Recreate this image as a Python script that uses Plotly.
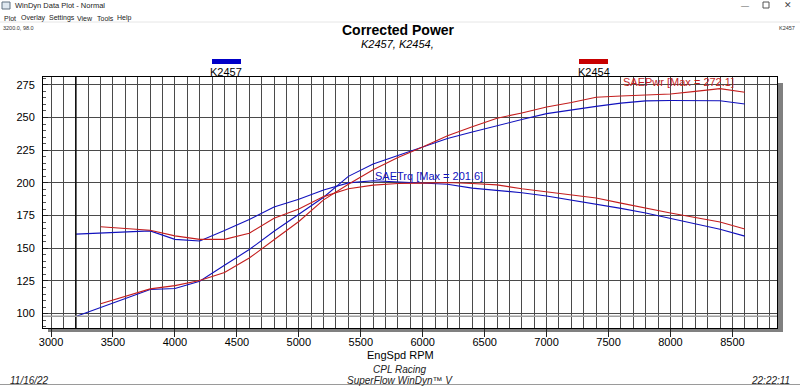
import plotly.graph_objects as go

# ---------------- data ----------------
rpm_k2457 = [3200, 3400, 3600, 3800, 4000, 4200, 4400, 4600, 4800, 5000, 5200, 5400, 5600, 5800,
             6000, 6200, 6400, 6600, 6800, 7000, 7200, 7400, 7600, 7800, 8000, 8200, 8400, 8600]
trq_k2457 = [160.8, 161.8, 162.5, 163.3, 156.8, 155.6, 163.5, 172.0, 181.5, 187.5, 194.5, 200.0, 201.6, 200.8,
             199.8, 199.0, 196.0, 194.5, 192.5, 190.0, 187.0, 183.5, 180.5, 177.0, 172.8, 168.5, 164.6, 159.3]
pwr_k2457 = [97.8, 104.5, 111.5, 118.4, 119.2, 124.7, 137.0, 149.0, 163.0, 176.0, 189.0, 205.0, 214.5, 221.0,
             227.5, 234.0, 239.0, 244.0, 248.5, 253.0, 256.0, 258.5, 261.0, 262.7, 263.0, 263.0, 262.8, 260.3]

rpm_k2454 = [3400, 3600, 3800, 4000, 4200, 4400, 4600, 4800, 5000, 5200, 5400, 5600, 5800,
             6000, 6200, 6400, 6600, 6800, 7000, 7200, 7400, 7600, 7800, 8000, 8200, 8400, 8600]
trq_k2454 = [166.5, 165.0, 163.8, 159.5, 156.8, 156.8, 161.5, 173.0, 180.0, 189.5, 195.5, 198.3, 199.5,
             199.8, 200.3, 199.5, 198.5, 195.5, 193.0, 190.5, 188.5, 184.5, 180.5, 177.0, 173.5, 170.1, 164.8]
pwr_k2454 = [107.5, 113.2, 118.9, 121.4, 125.3, 131.5, 142.5, 156.5, 170.5, 187.0, 199.0, 210.0, 219.5,
             227.5, 236.0, 243.0, 249.5, 253.5, 258.0, 261.5, 265.5, 266.5, 267.0, 268.0, 270.0, 272.1, 269.3]

x_ticks = [3000, 3500, 4000, 4500, 5000, 5500, 6000, 6500, 7000, 7500, 8000, 8500]
y_ticks = [100, 125, 150, 175, 200, 225, 250, 275]
run_names = ["K2457", "K2454"]
max_trq_label = "SAETrq [Max = 201.6]"
max_pwr_label = "SAEPwr [Max = 272.1]"
cursor_rpm = 3200.0
cursor_val = 98.0

BLUE = "#1212BE"
RED = "#C41E1E"

# ---------------- geometry helpers (pixel -> paper) ----------------
W, H = 800, 386
L, R, T, B = 43, 777, 77, 328


def px(x):
    return (x - L) / (R - L)


def py(y):
    return (B - y) / (B - T)


fig = go.Figure()
for xs, ys, c in [(rpm_k2457, pwr_k2457, BLUE), (rpm_k2457, trq_k2457, BLUE),
                  (rpm_k2454, pwr_k2454, RED), (rpm_k2454, trq_k2454, RED)]:
    fig.add_trace(go.Scatter(x=xs, y=ys, mode="lines", line=dict(color=c, width=1.1),
                             showlegend=False, hoverinfo="skip"))

FONT = "Liberation Sans, Arial, sans-serif"
grid = "#4a4a4a"

fig.update_layout(
    width=W, height=H,
    margin=dict(l=L, r=W - R, t=T, b=H - B),
    paper_bgcolor="white", plot_bgcolor="white",
    font=dict(family=FONT, size=11, color="black"),
    xaxis=dict(range=[2935, 8860], tickvals=x_ticks, ticktext=[str(v) for v in x_ticks],
               showgrid=True, gridcolor=grid, gridwidth=1,
               minor=dict(dtick=100, tick0=3000, showgrid=True, gridcolor=grid, gridwidth=1),
               ticks="outside", ticklen=8, tickcolor="#222", tickwidth=1,
               ticklabelstandoff=-4,
               showline=True, linecolor="black", linewidth=1, mirror=True,
               zeroline=False, tickfont=dict(size=11, family=FONT)),
    yaxis=dict(range=[89, 281], tickvals=y_ticks, ticktext=[str(v) for v in y_ticks],
               showgrid=True, gridcolor=grid, gridwidth=1,
               ticks="inside", ticklen=5, tickcolor="#222",
               ticklabelstandoff=5,
               minor=dict(dtick=5, tick0=0, ticks="inside", ticklen=3, tickcolor="#555", showgrid=False),
               showline=True, linecolor="black", linewidth=1, mirror=True,
               zeroline=False, tickfont=dict(size=11, family=FONT)),
)

shapes = []
# drop shadow of the plot frame
shapes.append(dict(type="rect", xref="paper", yref="paper", x0=px(777), x1=px(783), y0=py(332), y1=py(83),
                   fillcolor="#808080", line=dict(width=0), layer="below"))
shapes.append(dict(type="rect", xref="paper", yref="paper", x0=px(48), x1=px(783), y0=py(332), y1=py(328),
                   fillcolor="#808080", line=dict(width=0), layer="below"))
# cursor cross-hair
shapes.append(dict(type="line", xref="x", yref="paper", x0=cursor_rpm, x1=cursor_rpm, y0=0, y1=1,
                   line=dict(color="#111", width=1.6)))
shapes.append(dict(type="line", xref="paper", yref="y", x0=0, x1=1, y0=cursor_val, y1=cursor_val,
                   line=dict(color="#a0a0a0", width=1.5)))
# legend swatches
shapes.append(dict(type="rect", xref="paper", yref="paper", x0=px(212), x1=px(241), y0=py(64), y1=py(59),
                   fillcolor="#0000C8", line=dict(width=0)))
shapes.append(dict(type="rect", xref="paper", yref="paper", x0=px(579), x1=px(608), y0=py(64), y1=py(59),
                   fillcolor="#C80000", line=dict(width=0)))
# window chrome lines
shapes.append(dict(type="line", xref="paper", yref="paper", x0=px(0), x1=px(800), y0=py(22), y1=py(22),
                   line=dict(color="#e6e6e6", width=1)))
shapes.append(dict(type="line", xref="paper", yref="paper", x0=px(0), x1=px(800), y0=py(384.5), y1=py(384.5),
                   line=dict(color="#9a9a9a", width=1)))
# app icon
shapes.append(dict(type="rect", xref="paper", yref="paper", x0=px(2), x1=px(10), y0=py(9), y1=py(2),
                   fillcolor="#dfe8f0", line=dict(color="#607080", width=1)))
# maximise box outline
shapes.append(dict(type="rect", xref="paper", yref="paper", x0=px(763), x1=px(769), y0=py(8), y1=py(2),
                   line=dict(color="#555", width=1)))
fig.update_layout(shapes=shapes)


def ann(text, x, y, size=11, color="black", xanchor="center", bold=False, italic=False, fam=FONT):
    t = text
    if bold:
        t = "<b>" + t + "</b>"
    if italic:
        t = "<i>" + t + "</i>"
    fig.add_annotation(text=t, x=px(x), y=py(y), xref="paper", yref="paper", showarrow=False,
                       xanchor=xanchor, yanchor="middle", font=dict(size=size, color=color, family=fam))


# window title bar & menu
ann("WinDyn Data Plot - Normal", 13, 5, size=7.5, xanchor="left", color="#222")
ann("—", 745, 5, size=8, color="#555")
ann("✕", 788, 5, size=9, color="#444")
menu = [("Plot", 2), ("Overlay", 19), ("Settings", 47), ("View", 75), ("Tools", 95), ("Help", 115)]
for name, xpos in menu:
    ann(name, xpos, 18, size=7, xanchor="left", color="#222")
ann(f"{cursor_rpm:.1f}, {cursor_val:.1f}", 1, 28, size=5.5, xanchor="left", color="#333")
ann(run_names[0], 797, 28, size=5.5, xanchor="right", color="#333")

# titles
ann("Corrected Power", 398, 30, size=14, bold=True)
ann(", ".join(run_names) + ",", 397, 44, size=11, italic=True)
ann(run_names[0], 226, 72, size=11)
ann(run_names[1], 594, 72, size=11)

# curve labels
fig.add_annotation(text=max_trq_label, x=5600, y=205.2, xref="x", yref="y", showarrow=False,
                   xanchor="left", yanchor="middle", font=dict(size=11, color=BLUE, family=FONT))
fig.add_annotation(text=max_pwr_label, x=7600, y=276.8, xref="x", yref="y", showarrow=False,
                   xanchor="left", yanchor="middle", font=dict(size=11, color=RED, family=FONT))

# axis title & footer
ann("EngSpd RPM", 400, 355, size=11)
ann("CPL Racing", 400, 369, size=10, italic=True, color="#222")
ann("SuperFlow WinDyn™ V", 400, 380, size=10, italic=True, color="#222")
ann("11/16/22", 8, 380, size=10, italic=True, xanchor="left", color="#222")
ann("22:22:11", 792, 380, size=10, italic=True, xanchor="right", color="#222")

fig.write_html("out.html", config={"displayModeBar": False},
               post_script="document.body.style.margin='0';document.body.style.overflow='hidden';")
